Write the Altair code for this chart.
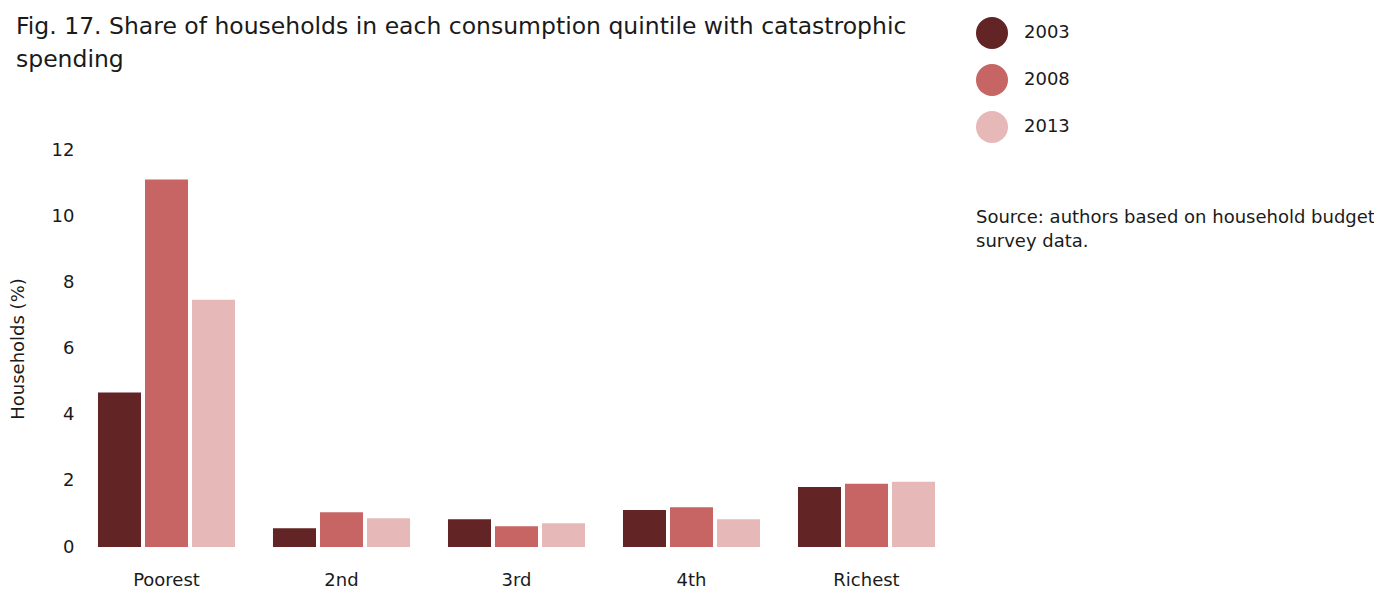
import altair as alt
import pandas as pd

quintiles = ["Poorest", "2nd", "3rd", "4th", "Richest"]
years = ["2003", "2008", "2013"]
v2003 = [4.67, 0.57, 0.84, 1.12, 1.81]
v2008 = [11.11, 1.05, 0.63, 1.20, 1.91]
v2013 = [7.47, 0.87, 0.72, 0.84, 1.97]
colors = ["#622425", "#c76565", "#e7b8b8"]
title_lines = ["Fig. 17. Share of households in each consumption quintile with catastrophic",
               "spending"]
source_lines = ["Source: authors based on household budget", "survey data."]

rows = []
for yr, vals in zip(years, [v2003, v2008, v2013]):
    for q, v in zip(quintiles, vals):
        rows.append({"Quintile": q, "Year": yr, "Value": v})
df = pd.DataFrame(rows)

FONT = "DejaVu Sans"
FS = 18

bars = alt.Chart(df).mark_bar().encode(
    x=alt.X("Quintile:N", sort=quintiles,
            scale=alt.Scale(paddingInner=0.217, paddingOuter=0.1085),
            axis=alt.Axis(title=None, labelAngle=0, domain=False, ticks=False,
                          labelFontSize=FS, labelPadding=24, labelColor="#1a1a1a",
                          labelFont=FONT)),
    xOffset=alt.XOffset("Year:N", sort=years,
                        scale=alt.Scale(paddingInner=0.085, paddingOuter=0)),
    y=alt.Y("Value:Q", scale=alt.Scale(domain=[0, 12], nice=False),
            axis=alt.Axis(title="Households (%)", values=[0, 2, 4, 6, 8, 10, 12],
                          domain=False, ticks=False, grid=False,
                          labelFontSize=FS, labelPadding=5, labelColor="#1a1a1a",
                          labelFont=FONT, titleFont=FONT, titleFontSize=FS,
                          titleFontWeight="normal", titleColor="#1a1a1a",
                          titlePadding=24)),
    color=alt.Color("Year:N", sort=years,
                    scale=alt.Scale(domain=years, range=colors),
                    legend=alt.Legend(title=None, orient="none", legendX=897, legendY=-133,
                                      symbolType="circle", symbolSize=1024,
                                      symbolStrokeWidth=0, symbolOpacity=1,
                                      labelFontSize=FS, labelFont=FONT,
                                      labelColor="#1a1a1a", labelOffset=16,
                                      rowPadding=15)),
)

src = alt.Chart(pd.DataFrame({"k": [0]})).mark_text(
    align="left", baseline="top", fontSize=FS, font=FONT, color="#1a1a1a", lineHeight=24
).encode(
    x=alt.value(897), y=alt.value(59), text=alt.value(source_lines)
)

chart = alt.layer(bars, src).properties(
    width=875, height=397,
    padding={"left": 71, "top": 142, "right": 420, "bottom": 44},
    autosize=alt.AutoSizeParams(type="none"),
    title=alt.TitleParams(text=title_lines, anchor="start", frame="group",
                          fontSize=23.5, font=FONT, fontWeight="normal",
                          color="#1a1a1a", dx=-63, offset=-54, lineHeight=33),
).configure_view(stroke=None)

chart.save("out.html", embed_options={"renderer": "svg", "actions": False})
